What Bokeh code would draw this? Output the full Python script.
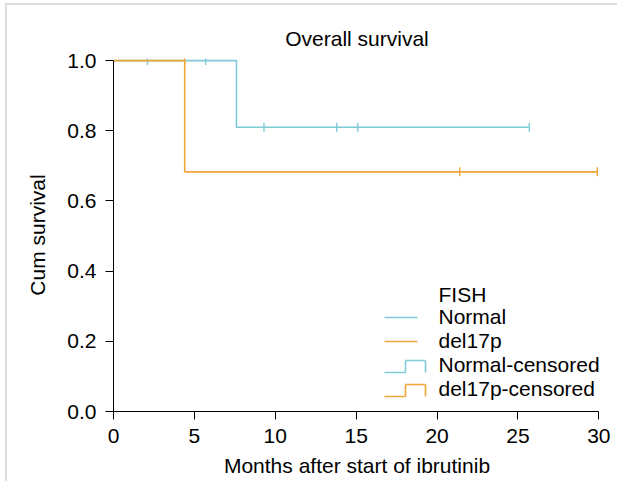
import math
from bokeh.plotting import figure
from bokeh.models import Range1d, Label, Arrow, PrintfTickFormatter
from bokeh.embed import file_html
from bokeh.resources import INLINE

# ---- data ----
title_text = "Overall survival"
x_label = "Months after start of ibrutinib"
y_label = "Cum survival"
legend_title = "FISH"
x_ticks = [0, 5, 10, 15, 20, 25, 30]
y_ticks = [0.0, 0.2, 0.4, 0.6, 0.8, 1.0]

groups = ["Normal", "del17p"]
legend_labels = ["Normal", "del17p", "Normal-censored", "del17p-censored"]

normal_event_times = [7.6]
normal_survival = [0.81]
normal_last_time = 25.7
normal_censored = [2.1, 5.7, 9.3, 13.8, 15.1, 25.7]

del17p_event_times = [4.4]
del17p_survival = [0.683]
del17p_last_time = 29.9
del17p_censored = [4.4, 21.4, 29.9]

# ---- styles ----
colors = {"Normal": "#7fcad7", "del17p": "#f2a53a"}
FONT = "Liberation Sans"
FS = "21px"

series = {
    "Normal": (normal_event_times, normal_survival, normal_last_time, normal_censored),
    "del17p": (del17p_event_times, del17p_survival, del17p_last_time, del17p_censored),
}


def surv_at(t, ev_t, ev_s):
    s = 1.0
    for et, es in zip(ev_t, ev_s):
        if et < t:
            s = es
    return s


p = figure(frame_width=487, frame_height=353,
           x_range=Range1d(0, 30.1), y_range=Range1d(0, 1.006),
           min_border_left=113, min_border_top=58, min_border_right=17, min_border_bottom=70,
           output_backend="svg", toolbar_location=None,
           background_fill_color="white", border_fill_color=None,
           styles={"box-shadow": "inset 5px 3px 0 0 #ffffff, inset 7px 5px 0 0 #dedede",
                   "background-color": "white"})
p.outline_line_color = None
p.xgrid.visible = False
p.ygrid.visible = False

p.title.text = title_text
p.title.align = "center"
p.title.text_font = FONT
p.title.text_font_size = FS
p.title.text_font_style = "normal"
p.title.text_color = "black"
p.title.standoff = 18

for ax in (p.xaxis[0], p.yaxis[0]):
    ax.axis_line_color = "black"
    ax.major_tick_line_color = "black"
    ax.minor_tick_line_color = None
    ax.major_tick_out = 8
    ax.major_tick_in = 0
    ax.major_label_text_font = FONT
    ax.major_label_text_font_size = FS
    ax.major_label_text_color = "black"
    ax.axis_label_text_font = FONT
    ax.axis_label_text_font_size = FS
    ax.axis_label_text_font_style = "normal"
    ax.axis_label_text_color = "black"

p.xaxis.ticker = x_ticks
p.yaxis.ticker = y_ticks
p.xaxis.bounds = (0, 30)
p.yaxis.bounds = (0, 1)
p.yaxis.formatter = PrintfTickFormatter(format="%.1f")
p.xaxis.axis_label = x_label
p.yaxis.axis_label = y_label
p.xaxis.major_label_standoff = 9
p.yaxis.major_label_standoff = 9
p.xaxis.axis_label_standoff = 8
p.yaxis.axis_label_standoff = 15

for g in groups:
    ev_t, ev_s, last_t, cens = series[g]
    xs = [0] + list(ev_t) + [last_t]
    ys = [1.0] + list(ev_s) + [ev_s[-1]]
    p.step(xs, ys, mode="after", line_color=colors[g], line_width=1.6)
    cy = [surv_at(t, ev_t, ev_s) for t in cens]
    p.scatter(cens, cy, marker="dash", angle=math.pi / 2, size=9,
              line_color=colors[g], line_width=1.4)

# ---- legend (drawn manually, screen units relative to the frame) ----
text_x = 325
text_dy = 8
icon_x0, icon_xm, icon_x1, line_x1 = 271, 292, 312, 304
baselines = [109.5, 87, 63, 39, 15]

p.add_layout(Label(x=text_x, y=baselines[0] + text_dy, x_units="screen", y_units="screen",
                   text=legend_title, text_font=FONT, text_font_size=FS,
                   text_baseline="alphabetic", text_color="black"))
for i, lab in enumerate(legend_labels):
    b = baselines[i + 1]
    p.add_layout(Label(x=text_x, y=b + text_dy, x_units="screen", y_units="screen",
                       text=lab, text_font=FONT, text_font_size=FS,
                       text_baseline="alphabetic", text_color="black"))
    col = colors[groups[i % 2]]
    if i < 2:
        segs = [(icon_x0, b + 7, line_x1, b + 7)]
    else:
        lo, hi = b, b + 12
        segs = [(icon_x0, lo, icon_xm, lo), (icon_xm, lo, icon_xm, hi),
                (icon_xm, hi, icon_x1, hi), (icon_x1, hi, icon_x1, lo)]
    for (xa, ya, xb, yb) in segs:
        p.add_layout(Arrow(x_start=xa, y_start=ya, x_end=xb, y_end=yb,
                           start_units="screen", end_units="screen",
                           start=None, end=None, line_color=col, line_width=1.6))

open("out.html", "w").write(file_html(p, INLINE))
